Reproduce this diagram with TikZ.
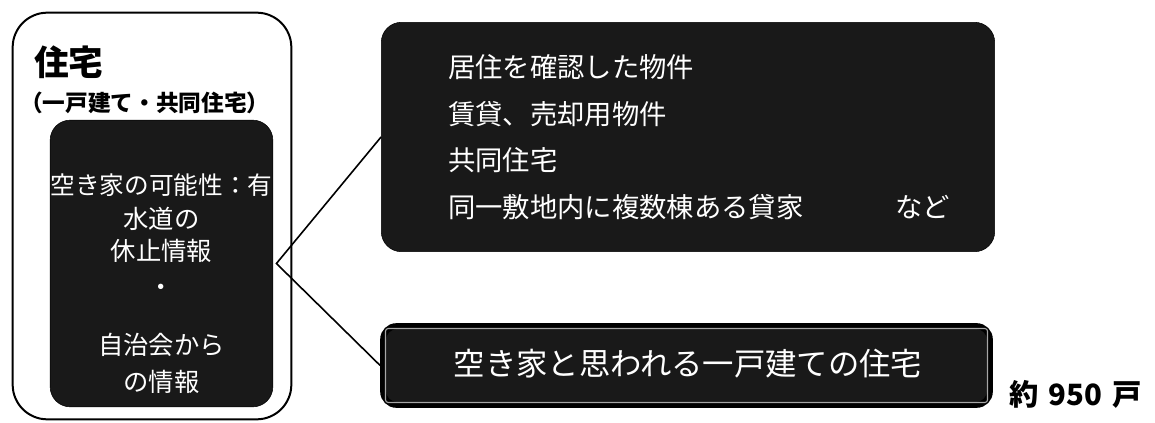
\documentclass[tikz,border=0pt]{standalone}
\usepackage{fontspec}
\setmainfont{Noto Sans CJK JP}
\usetikzlibrary{positioning}

\tikzset{
  darkbox/.style={fill=black!90, draw=black, rounded corners=15pt, inner sep=0pt},
  wtext/.style={text=white, inner sep=0pt},
  link/.style={line width=1.2pt, color=black}
}

\begin{document}
\begin{tikzpicture}[x=0.75pt,y=0.75pt,yscale=-1,xscale=1]
\useasboundingbox (0,0) rectangle (1155,423);

%Shape: outer box (house)
\node [draw, line width=1.5pt, rounded corners=26pt, minimum width=209pt, minimum height=305pt] (house) at (152,216) {};
\node [anchor=west, inner sep=0pt, font=\fontsize{26pt}{30pt}\bfseries] (housetitle) at (34,62) {住宅};
\node [anchor=west, inner sep=0pt, font=\fontsize{17pt}{20pt}\bfseries] (housesub) at (20,103) {（一戸建て・共同住宅）};

%Shape: inner dark box (info)
\node [darkbox, minimum width=167pt, minimum height=215pt] (info) at (161.5,263.5) {};
\node [wtext, font=\fontsize{18.5pt}{22pt}\selectfont] (info1) at (161.5,185) {空き家の可能性：有};
\node [wtext, font=\fontsize{19pt}{22pt}\selectfont] (info2) at (161.5,219) {水道の};
\node [wtext, font=\fontsize{19pt}{22pt}\selectfont] (info3) at (161.5,251) {休止情報};
\node [wtext, font=\fontsize{19pt}{22pt}\selectfont] (info4) at (161.5,290) {・};
\node [wtext, font=\fontsize{19pt}{22pt}\selectfont] (info5) at (161.5,345) {自治会から};
\node [wtext, font=\fontsize{19pt}{22pt}\selectfont] (info6) at (161.5,382) {の情報};

%Shape: excluded properties
\node [darkbox, minimum width=460pt, minimum height=172pt] (excl) at (688,137) {};
\node [wtext, anchor=west, font=\fontsize{20.5pt}{24pt}\selectfont] (excl1) at (448,67) {居住を確認した物件};
\node [wtext, anchor=west, font=\fontsize{20.5pt}{24pt}\selectfont] (excl2) at (448,114) {賃貸、売却用物件};
\node [wtext, anchor=west, font=\fontsize{20.5pt}{24pt}\selectfont] (excl3) at (448,160) {共同住宅};
\node [wtext, anchor=west, font=\fontsize{20.5pt}{24pt}\selectfont] (excl4) at (448,207) {同一敷地内に複数棟ある貸家\hspace{69pt}など};

%Shape: result box
\node [darkbox, line width=4.5pt, rounded corners=10pt, minimum width=455pt, minimum height=59pt] (result) at (686.5,365.5) {};
\draw [color=black!35, line width=0.8pt, rounded corners=2pt] ([xshift=4pt,yshift=4pt]result.north west) rectangle ([xshift=-4pt,yshift=-4pt]result.south east);
\node [wtext, font=\fontsize{23.5pt}{26pt}\selectfont] (resulttext) at (688,364) {空き家と思われる一戸建ての住宅};
\node [anchor=west, inner sep=0pt, font=\fontsize{22pt}{26pt}\bfseries] (count) at (1009,394) {約\hspace{0.35em}950\hspace{0.35em}戸};

%Straight Lines: links
\coordinate (apex) at ([xshift=2.5pt]info.east);
\draw [link] (excl.west) -- (apex) -- (result.west);
\end{tikzpicture}
\end{document}
